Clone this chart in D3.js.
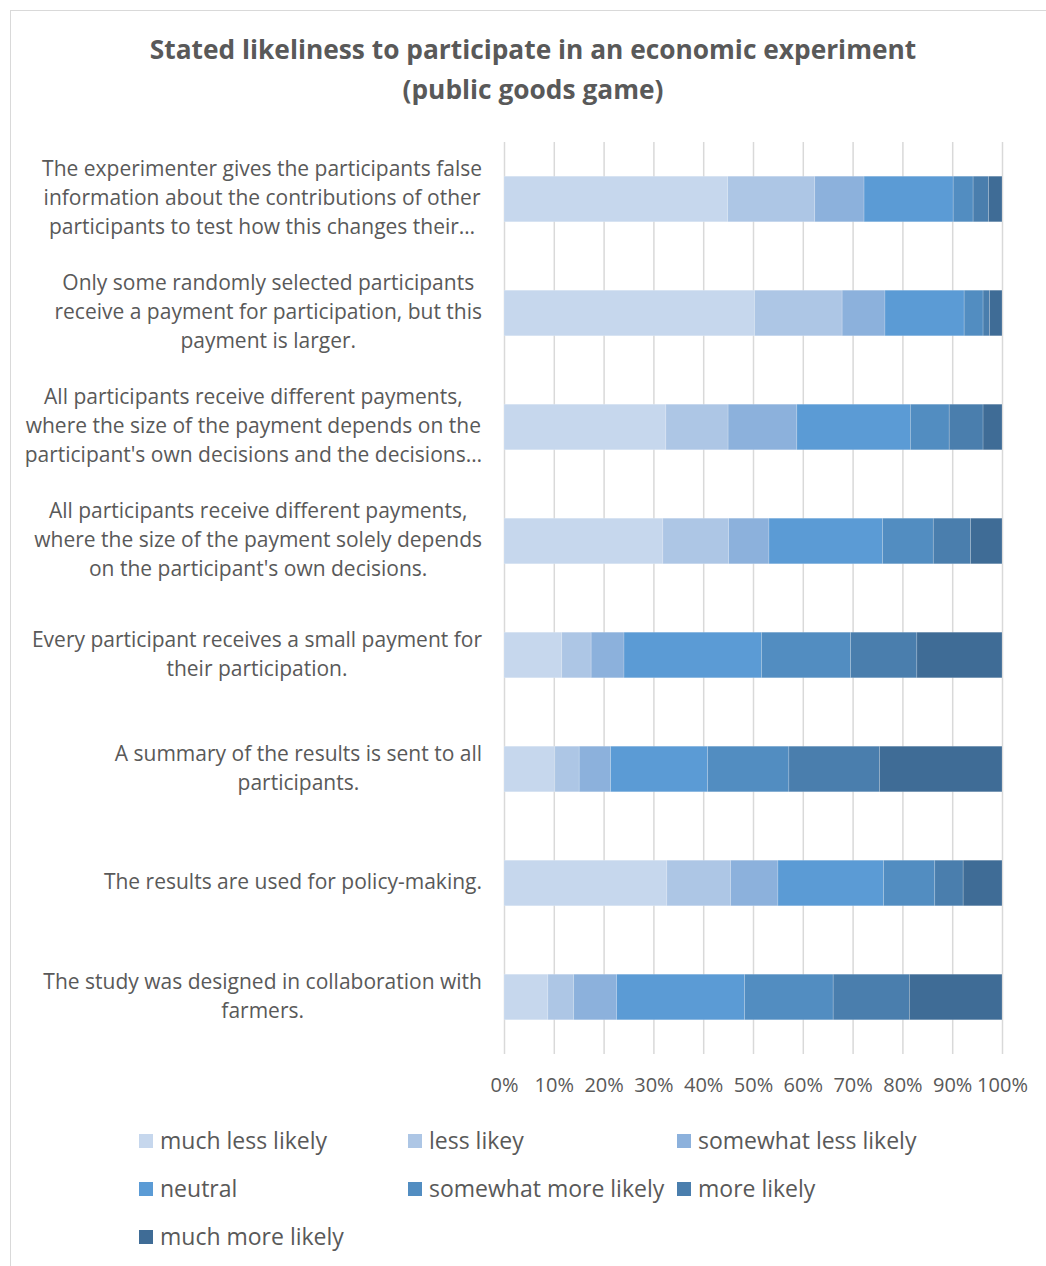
<!DOCTYPE html>
<html>
<head>
<meta charset="utf-8">
<script src="https://cdn.jsdelivr.net/npm/d3@7"></script>
<style>
  body { margin: 0; background: #fff; }
  svg { display: block; font-family: "Open Sans", sans-serif; }
</style>
</head>
<body>
<svg width="1046" height="1266"></svg>
<script>
const categories = [
  ["The experimenter gives the participants false", "information about the contributions of other", "participants to test how this changes their\u2026"],
  ["Only some randomly selected participants", "receive a payment for participation, but this", "payment is larger."],
  ["All participants receive different payments,", "where the size of the payment depends on the", "participant's own decisions and the decisions\u2026"],
  ["All participants receive different payments,", "where the size of the payment solely depends", "on the participant's own decisions."],
  ["Every participant receives a small payment for", "their participation."],
  ["A summary of the results is sent to all", "participants."],
  ["The results are used for policy-making."],
  ["The study was designed in collaboration with", "farmers."]
];

const seriesNames = ["much less likely", "less likey", "somewhat less likely", "neutral",
  "somewhat more likely", "more likely", "much more likely"];

// shares per category (percent), one array per series
const muchLess     = [44.9, 50.3, 32.5, 31.9, 11.6, 10.2, 32.7, 8.8];
const less         = [17.5, 17.6, 12.5, 13.2, 5.9, 4.9, 12.8, 5.2];
const somewhatLess = [9.9, 8.6, 13.8, 8.1, 6.6, 6.3, 9.5, 8.6];
const neutral      = [17.9, 15.9, 22.8, 22.8, 27.6, 19.5, 21.2, 25.7];
const somewhatMore = [4.0, 3.8, 7.8, 10.2, 17.9, 16.3, 10.3, 17.8];
const more         = [3.1, 1.3, 6.8, 7.5, 13.3, 18.2, 5.7, 15.3];
const muchMore     = [2.7, 2.5, 3.8, 6.3, 17.1, 24.6, 7.8, 18.6];

const tickValues = [0, 0.1, 0.2, 0.3, 0.4, 0.5, 0.6, 0.7, 0.8, 0.9, 1];

const colors = ["#c6d7ed", "#adc6e5", "#8cb1dc", "#5b9bd5", "#528dc1", "#4a7ead", "#3f6c96"];
const textColor = "#595959";

const seriesValues = [muchLess, less, somewhatLess, neutral, somewhatMore, more, muchMore];
const rows = categories.map((c, i) => {
  const r = { idx: i };
  seriesNames.forEach((s, k) => r[s] = seriesValues[k][i]);
  return r;
});

const svg = d3.select("svg");

// outer chart border
svg.append("rect")
  .attr("x", 10.5).attr("y", 10.5)
  .attr("width", 1060).attr("height", 1270)
  .attr("fill", "#fff").attr("stroke", "#d9d9d9");

// title
const titleLines = ["Stated likeliness to participate in an economic experiment", "(public goods game)"];
svg.append("g")
  .selectAll("text")
  .data(titleLines)
  .join("text")
  .attr("x", 533).attr("y", (d, i) => 59 + i * 40)
  .attr("text-anchor", "middle")
  .attr("font-size", 26.3).attr("font-weight", "bold")
  .attr("fill", textColor)
  .text(d => d);

const plotLeft = 504, plotRight = 1002, plotTop = 142, plotBottom = 1054;

const x = d3.scaleLinear().domain([0, 1]).range([plotLeft, plotRight]);
const y = d3.scaleBand().domain(d3.range(categories.length)).range([plotTop, plotBottom])
  .paddingInner(0.6).paddingOuter(0.3);

// gridlines
svg.append("g")
  .selectAll("line")
  .data(tickValues)
  .join("line")
  .attr("x1", d => x(d) + 0.5).attr("x2", d => x(d) + 0.5)
  .attr("y1", plotTop).attr("y2", plotBottom)
  .attr("stroke", "#d9d9d9").attr("stroke-width", 1.5);

// stacked bars
const stack = d3.stack().keys(seriesNames).offset(d3.stackOffsetExpand);
const stacked = stack(rows);

svg.append("g")
  .selectAll("g")
  .data(stacked)
  .join("g")
  .attr("fill", (d, i) => colors[i])
  .selectAll("rect")
  .data(d => d)
  .join("rect")
  .attr("x", d => x(d[0]))
  .attr("y", d => y(d.data.idx))
  .attr("width", d => x(d[1]) - x(d[0]))
  .attr("height", y.bandwidth())
  .attr("stroke", "rgba(255,255,255,0.25)")
  .attr("stroke-width", 0.7);

// x axis labels
const xAxis = d3.axisBottom(x).tickValues(tickValues).tickFormat(d3.format(".0%")).tickSize(0).tickPadding(0);
const gx = svg.append("g")
  .attr("transform", `translate(0,${plotBottom + 24})`)
  .call(xAxis);
gx.select(".domain").remove();
gx.selectAll("text").attr("font-size", 20).attr("fill", textColor).attr("font-family", "Open Sans");

// category labels (centered lines, block right-aligned)
const lineH = 29;
const catG = svg.append("g");
categories.forEach((lines, i) => {
  const cy = y(i) + y.bandwidth() / 2;
  const g = catG.append("text")
    .attr("font-size", 21).attr("fill", textColor)
    .attr("text-anchor", "middle");
  const spans = lines.map((l, j) => g.append("tspan")
    .attr("y", cy + (j - (lines.length - 1) / 2) * lineH + 6)
    .text(l));
  const maxW = d3.max(spans, s => s.node().getComputedTextLength());
  spans.forEach(s => s.attr("x", 482 - maxW / 2));
});

// legend
const legendCols = [139, 408, 677];
const legend = svg.append("g");
seriesNames.forEach((name, i) => {
  const lx = legendCols[i % 3];
  const ly = 1141 + Math.floor(i / 3) * 48;
  legend.append("rect")
    .attr("x", lx).attr("y", ly - 7)
    .attr("width", 14).attr("height", 14)
    .attr("fill", colors[i]);
  legend.append("text")
    .attr("x", lx + 21).attr("y", ly + 8)
    .attr("font-size", 23).attr("fill", textColor)
    .text(name);
});
</script>
</body>
</html>
